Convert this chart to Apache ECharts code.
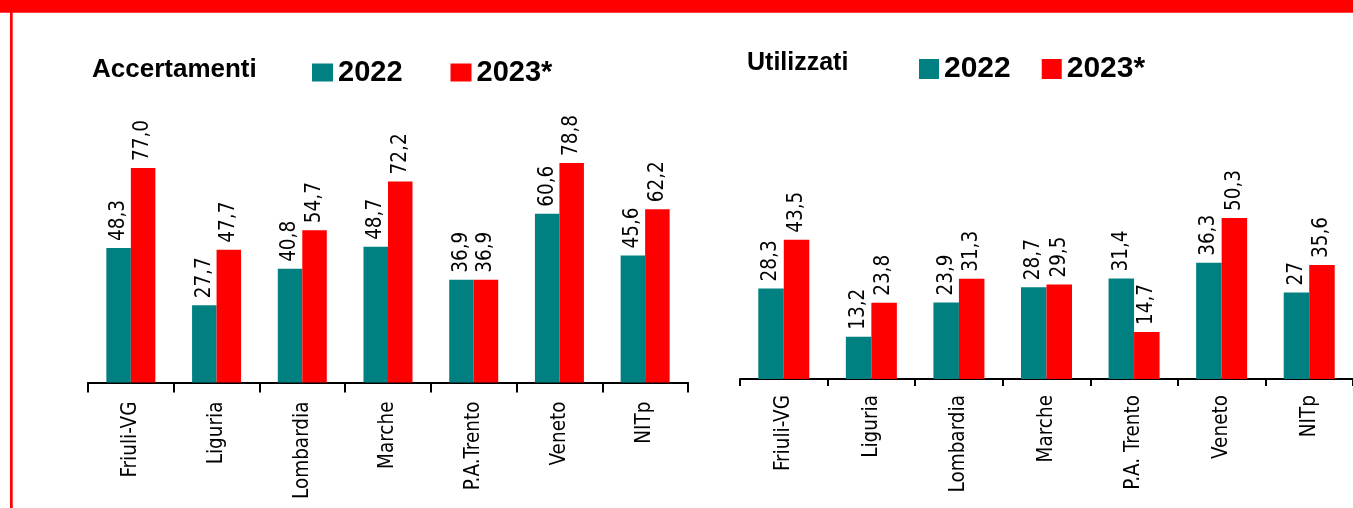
<!DOCTYPE html>
<html>
<head>
<meta charset="utf-8">
<script src="https://cdn.jsdelivr.net/npm/echarts@6/dist/echarts.min.js"></script>
<style>
html,body{margin:0;padding:0;background:#fff;}
#c{width:1353px;height:508px;}
</style>
</head>
<body>
<div id="c"></div>
<script>
// ---- data ----
const categoriesAcc = ['Friuli-VG', 'Liguria', 'Lombardia', 'Marche', 'P.A.Trento', 'Veneto', 'NITp'];
const categoriesUti = ['Friuli-VG', 'Liguria', 'Lombardia', 'Marche', 'P.A. Trento', 'Veneto', 'NITp'];
const acc2022 = [48.3, 27.7, 40.8, 48.7, 36.9, 60.6, 45.6];
const acc2023 = [77.0, 47.7, 54.7, 72.2, 36.9, 78.8, 62.2];
const uti2022 = [28.3, 13.2, 23.9, 28.7, 31.4, 36.3, 27];
const uti2023 = [43.5, 23.8, 31.3, 29.5, 14.7, 50.3, 35.6];
const acc2022Labels = ['48,3', '27,7', '40,8', '48,7', '36,9', '60,6', '45,6'];
const acc2023Labels = ['77,0', '47,7', '54,7', '72,2', '36,9', '78,8', '62,2'];
const uti2022Labels = ['28,3', '13,2', '23,9', '28,7', '31,4', '36,3', '27'];
const uti2023Labels = ['43,5', '23,8', '31,3', '29,5', '14,7', '50,3', '35,6'];
const seriesNames = ['2022', '2023*'];

const TEAL = '#008080', RED = '#FF0000';
const FONT = "'DejaVu Sans Condensed', 'DejaVu Sans', sans-serif";
const BOLD = "'Liberation Sans', Arial, sans-serif";

function barLabel(labels) {
  return {
    show: true, position: 'top', rotate: 90, align: 'left', verticalAlign: 'middle',
    distance: 7, fontSize: 20.5, fontFamily: FONT, color: '#000',
    formatter: p => labels[p.dataIndex]
  };
}
function xAx(grid, cats, margin, tickLen) {
  return {
    type: 'category', gridIndex: grid, data: cats,
    axisLine: {show: true, lineStyle: {color: '#000', width: 2}},
    axisTick: {show: true, length: tickLen, lineStyle: {color: '#000', width: 2}},
    axisLabel: {interval: 0, rotate: 90, margin: margin, fontSize: 20.5, fontFamily: FONT, color: '#000'},
    splitLine: {show: false}
  };
}
function yAx(grid, max) {
  return {type: 'value', gridIndex: grid, min: 0, max: max, show: false, splitLine: {show: false}};
}

const chart = echarts.init(document.getElementById('c'), null, {renderer: 'canvas'});
chart.setOption({
  animation: false,
  backgroundColor: '#fff',
  title: [
    {text: 'Accertamenti', left: 92, top: 57, padding: 0,
     textStyle: {fontFamily: BOLD, fontWeight: 'bold', fontSize: 26, color: '#000'}},
    {text: 'Utilizzati', left: 747, top: 51, padding: 0,
     textStyle: {fontFamily: BOLD, fontWeight: 'bold', fontSize: 25, color: '#000'}}
  ],
  legend: [
    {data: seriesNames, left: 312, top: 58, padding: 0, icon: 'rect', itemWidth: 21, itemHeight: 18, itemGap: 48,
     textStyle: {fontFamily: BOLD, fontWeight: 'bold', fontSize: 29, color: '#000'}, selectedMode: false},
    {data: seriesNames, left: 919, top: 54, padding: 0, icon: 'rect', itemWidth: 20, itemHeight: 20, itemGap: 31,
     textStyle: {fontFamily: BOLD, fontWeight: 'bold', fontSize: 30, color: '#000'}, selectedMode: false}
  ],
  grid: [
    {left: 88, top: 104, width: 600, height: 278.5, containLabel: false},
    {left: 740, top: 123, width: 615, height: 256, containLabel: false}
  ],
  xAxis: [xAx(0, categoriesAcc, 19, 10), xAx(1, categoriesUti, 16, 7)],
  yAxis: [yAx(0, 100), yAx(1, 80)],
  series: [
    {name: seriesNames[0], type: 'bar', xAxisIndex: 0, yAxisIndex: 0, data: acc2022, barWidth: 24.5, barGap: '0%',
     itemStyle: {color: TEAL}, label: barLabel(acc2022Labels)},
    {name: seriesNames[1], type: 'bar', xAxisIndex: 0, yAxisIndex: 0, data: acc2023, barWidth: 24.5, barGap: '0%',
     itemStyle: {color: RED}, label: barLabel(acc2023Labels)},
    {name: seriesNames[0], type: 'bar', xAxisIndex: 1, yAxisIndex: 1, data: uti2022, barWidth: 25.5, barGap: '0%',
     itemStyle: {color: TEAL}, label: barLabel(uti2022Labels)},
    {name: seriesNames[1], type: 'bar', xAxisIndex: 1, yAxisIndex: 1, data: uti2023, barWidth: 25.5, barGap: '0%',
     itemStyle: {color: RED}, label: barLabel(uti2023Labels)}
  ],
  graphic: [
    {type: 'rect', shape: {x: 0, y: 0, width: 1353, height: 12.7}, style: {fill: RED}, silent: true, z: 100},
    {type: 'rect', shape: {x: 10, y: 0, width: 2.7, height: 508}, style: {fill: RED}, silent: true, z: 100}
  ]
});
</script>
</body>
</html>
